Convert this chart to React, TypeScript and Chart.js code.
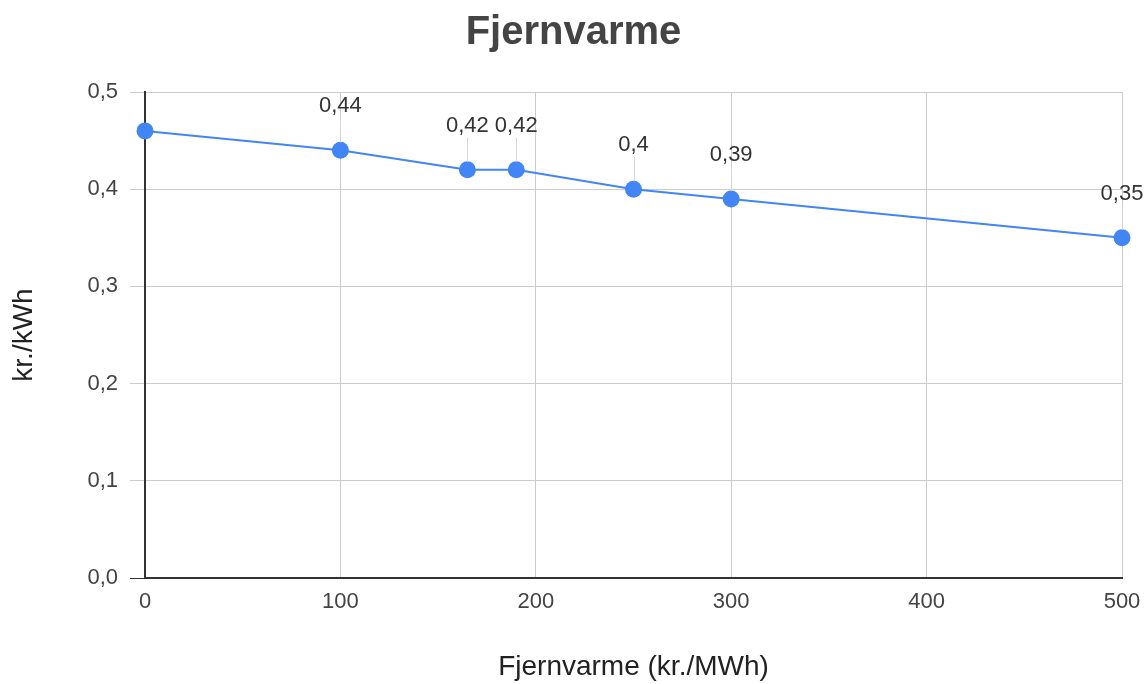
import React, { useEffect, useRef } from "react";
import { Chart, registerables } from "chart.js";

Chart.register(...registerables);

const titleText = "Fjernvarme";
const xTitle = "Fjernvarme (kr./MWh)";
const yTitle = "kr./kWh";
const xValues = [0, 100, 165, 190, 250, 300, 500];
const yValues = [0.46, 0.44, 0.42, 0.42, 0.4, 0.39, 0.35];
const showLabel = [false, true, true, true, true, true, true];
const xTicks = [0, 100, 200, 300, 400, 500];
const yTicks = [0, 0.1, 0.2, 0.3, 0.4, 0.5];

const FONT = "Arial, 'Liberation Sans', sans-serif";
const fmt = (v: number) => String(v).replace(".", ",");

const dataLabelPlugin = {
  id: "dataLabels",
  afterDatasetsDraw(chart: any) {
    const meta = chart.getDatasetMeta(0);
    const ctx = chart.ctx;
    ctx.save();
    meta.data.forEach((pt: any, i: number) => {
      if (!showLabel[i]) return;
      const x = pt.x;
      const y = pt.y;
      const ly = y - 44;
      ctx.strokeStyle = "#d6d6d6";
      ctx.lineWidth = 1;
      ctx.beginPath();
      ctx.moveTo(Math.round(x) + 0.5, ly + 12);
      ctx.lineTo(Math.round(x) + 0.5, y - 8);
      ctx.stroke();
      ctx.fillStyle = "#333";
      ctx.font = `22px ${FONT}`;
      ctx.textAlign = "center";
      ctx.textBaseline = "middle";
      ctx.fillText(fmt(yValues[i]), x, ly);
    });
    ctx.restore();
  },
};

export default function App() {
  const ref = useRef<HTMLCanvasElement | null>(null);
  useEffect(() => {
    if (!ref.current) return;
    const chart = new Chart(ref.current, {
      type: "line",
      data: {
        datasets: [
          {
            data: xValues.map((x, i) => ({ x, y: yValues[i] })),
            borderColor: "#4285F4",
            backgroundColor: "#4285F4",
            borderWidth: 2,
            pointRadius: 8.5,
            pointHoverRadius: 8.5,
            pointBorderWidth: 0,
            pointBackgroundColor: "#4285F4",
            tension: 0,
            fill: false,
            clip: false,
          },
        ],
      },
      options: {
        animation: false,
        responsive: false,
        devicePixelRatio: 1,
        layout: { padding: 0 },
        plugins: {
          legend: { display: false },
          tooltip: { enabled: false },
          title: {
            display: true,
            text: titleText,
            color: "#444",
            font: { family: FONT, size: 40, weight: "bold" },
            padding: { top: 9, bottom: 35 },
          },
        },
        scales: {
          x: {
            type: "linear",
            min: 0,
            max: 500,
            afterFit: (s: any) => {
              s.height = 106;
              s.paddingLeft = 0;
              s.paddingRight = 25;
            },
            afterBuildTicks: (s: any) => {
              s.ticks = xTicks.map((v) => ({ value: v }));
            },
            ticks: {
              color: "#444",
              font: { family: FONT, size: 22 },
              padding: 11,
              maxRotation: 0,
              callback: (v: any) => String(v),
            },
            grid: {
              color: "#cccccc",
              drawTicks: false,
              lineWidth: 1,
            },
            border: { color: "#333", width: 2 },
            title: {
              display: true,
              text: xTitle,
              color: "#222",
              font: { family: FONT, size: 28 },
              padding: { top: 0, bottom: 0 },
            },
          },
          y: {
            type: "linear",
            min: 0,
            max: 0.5,
            afterFit: (s: any) => {
              s.width = 145;
            },
            afterBuildTicks: (s: any) => {
              s.ticks = yTicks.map((v) => ({ value: v }));
            },
            ticks: {
              color: "#444",
              font: { family: FONT, size: 22 },
              padding: 12,
              callback: (v: any) => Number(v).toFixed(1).replace(".", ","),
            },
            grid: {
              color: (c: any) => (c.tick && c.tick.value === 0 ? "#333" : "#cccccc"),
              tickLength: 15,
              lineWidth: 1,
            },
            border: { color: "#333", width: 2 },
            title: {
              display: true,
              text: yTitle,
              color: "#222",
              font: { family: FONT, size: 28 },
              padding: { top: 7, bottom: 0 },
            },
          },
        },
      },
      plugins: [dataLabelPlugin],
    });
    return () => chart.destroy();
  }, []);
  return (
    <div style={{ position: "absolute", left: 0, top: 0, width: 1147, height: 684, background: "#fff" }}>
      <canvas ref={ref} width={1147} height={684} />
    </div>
  );
}
